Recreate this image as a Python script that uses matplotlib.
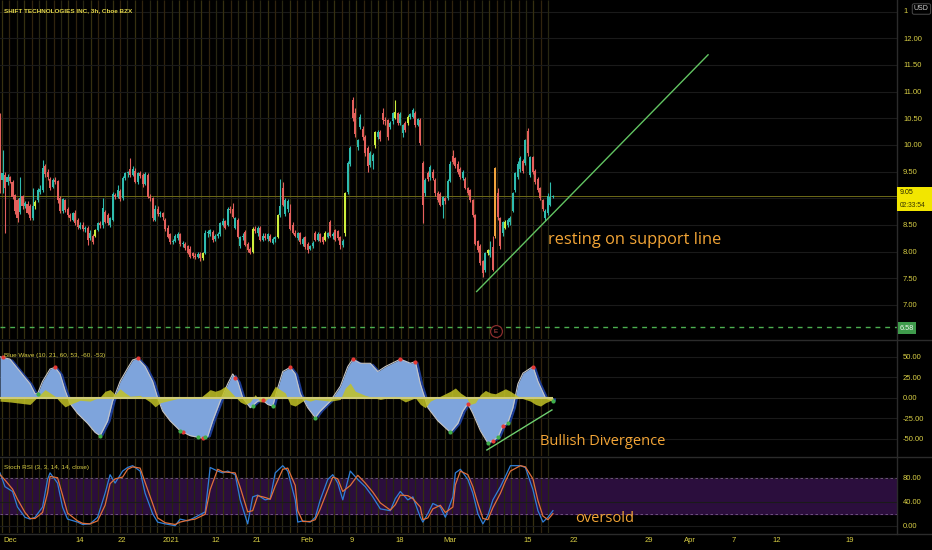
import numpy as np
import matplotlib
matplotlib.use("Agg")
import matplotlib.pyplot as plt
from matplotlib.lines import Line2D
from matplotlib.patches import Rectangle

# 3h candles, SHIFT (Cboe BZX)
opens = [
    10.46, 9.34, 9.43, 9.30, 9.39, 9.30, 9.06, 8.96, 8.74, 9.04,
    8.85, 8.90, 8.85, 8.62, 8.85, 8.96, 9.12, 9.15, 9.60, 9.50,
    9.37, 9.22, 9.35, 9.32, 9.00, 8.76, 8.96, 8.80, 8.68, 8.60,
    8.72, 8.60, 8.45, 8.50, 8.42, 8.45, 8.25, 8.30, 8.30, 8.40,
    8.53, 8.50, 8.74, 8.68, 8.50, 8.60, 9.06, 9.03, 9.13, 9.00,
    9.38, 9.47, 9.55, 9.44, 9.52, 9.30, 9.48, 9.43, 9.27, 9.44,
    9.02, 9.00, 8.60, 8.80, 8.70, 8.72, 8.60, 8.45, 8.32, 8.18,
    8.20, 8.25, 8.32, 8.14, 8.15, 8.10, 8.05, 7.98, 7.92, 7.90,
    7.96, 7.88, 7.97, 8.34, 8.33, 8.36, 8.24, 8.30, 8.32, 8.50,
    8.58, 8.50, 8.80, 8.80, 8.44, 8.60, 8.10, 8.27, 8.36, 8.15,
    8.05, 8.00, 8.43, 8.35, 8.45, 8.22, 8.30, 8.24, 8.30, 8.16,
    8.24, 8.27, 8.68, 9.20, 8.70, 8.80, 8.72, 8.50, 8.35, 8.26,
    8.34, 8.14, 8.28, 8.15, 8.05, 8.10, 8.35, 8.22, 8.32, 8.28,
    8.22, 8.28, 8.55, 8.30, 8.40, 8.38, 8.27, 8.12, 8.34, 9.11,
    9.65, 10.84, 10.60, 9.96, 10.33, 10.30, 10.14, 9.95, 9.62, 9.70,
    9.99, 10.15, 10.24, 10.60, 10.46, 10.46, 10.33, 10.44, 10.50, 10.60,
    10.42, 10.22, 10.42, 10.42, 10.52, 10.52, 10.60, 10.38, 10.46, 9.67,
    9.09, 9.48, 9.39, 9.50, 9.34, 9.10, 9.08, 8.88, 9.00, 9.00,
    9.32, 9.80, 9.75, 9.65, 9.55, 9.38, 9.37, 9.20, 9.15, 8.96,
    8.68, 8.20, 8.10, 7.82, 7.65, 7.97, 7.93, 8.08, 8.30, 9.09,
    8.62, 8.35, 8.45, 8.50, 8.55, 8.77, 9.15, 9.40, 9.55, 9.70,
    9.67, 10.27, 9.43, 9.77, 9.52, 9.37, 9.20, 8.96, 8.62, 8.72,
    8.88, 9.02]
highs = [
    10.60, 9.90, 9.50, 9.45, 9.42, 9.35, 9.08, 9.00, 9.40, 9.06,
    8.95, 8.95, 8.90, 9.20, 8.96, 9.20, 9.25, 9.72, 9.65, 9.55,
    9.40, 9.38, 9.40, 9.35, 9.05, 9.00, 8.98, 8.83, 8.72, 8.75,
    8.78, 8.63, 8.55, 8.55, 8.48, 8.48, 8.40, 8.33, 8.42, 8.56,
    8.58, 9.00, 8.78, 8.72, 8.65, 9.12, 9.10, 9.25, 9.18, 9.42,
    9.50, 9.52, 9.75, 9.60, 9.56, 9.50, 9.52, 9.48, 9.50, 9.47,
    9.08, 9.02, 8.88, 8.85, 8.76, 8.75, 8.62, 8.50, 8.35, 8.24,
    8.33, 8.36, 8.35, 8.20, 8.18, 8.13, 8.10, 8.00, 7.98, 8.00,
    7.99, 8.00, 8.40, 8.40, 8.42, 8.40, 8.33, 8.36, 8.56, 8.62,
    8.60, 8.83, 8.86, 8.92, 8.65, 8.62, 8.30, 8.34, 8.40, 8.18,
    8.08, 8.46, 8.47, 8.48, 8.48, 8.34, 8.34, 8.35, 8.33, 8.28,
    8.30, 8.70, 9.37, 9.30, 9.00, 8.98, 8.90, 8.55, 8.40, 8.36,
    8.37, 8.27, 8.30, 8.18, 8.13, 8.20, 8.38, 8.37, 8.35, 8.30,
    8.38, 8.37, 8.60, 8.36, 8.43, 8.40, 8.30, 8.24, 9.12, 9.70,
    9.98, 10.90, 10.70, 10.12, 10.58, 10.35, 10.18, 9.98, 9.88, 9.85,
    10.27, 10.28, 10.28, 10.70, 10.52, 10.48, 10.45, 10.62, 10.84, 10.62,
    10.62, 10.40, 10.45, 10.56, 10.60, 10.70, 10.63, 10.50, 10.50, 9.70,
    9.38, 9.52, 9.62, 9.54, 9.38, 9.13, 9.12, 9.05, 9.02, 9.36,
    9.70, 9.90, 9.78, 9.70, 9.58, 9.53, 9.40, 9.22, 9.18, 8.98,
    8.70, 8.22, 8.15, 7.85, 8.00, 8.05, 8.20, 8.30, 9.58, 9.20,
    8.65, 8.58, 8.60, 8.63, 8.66, 9.12, 9.50, 9.70, 9.80, 9.74,
    10.12, 10.31, 9.80, 9.80, 9.55, 9.40, 9.22, 8.98, 8.80, 9.10,
    9.30, 9.07]
lows = [
    9.10, 9.10, 8.34, 9.25, 9.28, 8.98, 8.70, 8.55, 8.70, 8.80,
    8.82, 8.70, 8.60, 8.60, 8.80, 8.93, 9.08, 9.12, 9.40, 9.35,
    9.15, 9.20, 9.26, 8.92, 8.72, 8.73, 8.75, 8.65, 8.58, 8.57,
    8.50, 8.42, 8.42, 8.38, 8.36, 8.12, 8.22, 8.14, 8.27, 8.38,
    8.45, 8.45, 8.53, 8.50, 8.46, 8.57, 8.98, 9.00, 8.95, 8.97,
    9.35, 9.40, 9.40, 9.42, 9.28, 9.27, 9.38, 9.22, 9.25, 9.00,
    8.95, 8.58, 8.57, 8.66, 8.64, 8.60, 8.38, 8.25, 8.15, 8.14,
    8.17, 8.22, 8.10, 8.08, 8.03, 7.95, 7.87, 7.88, 7.86, 7.87,
    7.83, 7.85, 7.95, 8.28, 8.30, 8.18, 8.20, 8.26, 8.30, 8.48,
    8.42, 8.47, 8.72, 8.62, 8.42, 8.25, 8.06, 8.22, 8.10, 8.00,
    7.95, 7.98, 8.34, 8.30, 8.20, 8.20, 8.22, 8.20, 8.17, 8.14,
    8.18, 8.25, 8.65, 8.86, 8.66, 8.75, 8.40, 8.32, 8.28, 8.22,
    8.14, 8.10, 8.05, 7.98, 8.02, 8.06, 8.20, 8.20, 8.17, 8.14,
    8.20, 8.25, 8.28, 8.24, 8.20, 8.22, 8.05, 8.08, 8.30, 9.08,
    9.60, 10.45, 10.15, 9.90, 10.30, 10.10, 9.80, 9.50, 9.58, 9.55,
    9.95, 10.12, 10.08, 10.40, 10.38, 10.10, 10.30, 10.40, 10.48, 10.38,
    10.38, 10.15, 10.25, 10.38, 10.48, 10.50, 10.33, 10.35, 10.00, 8.53,
    9.05, 9.33, 9.35, 9.35, 9.05, 8.93, 8.85, 8.62, 8.90, 8.97,
    9.30, 9.65, 9.56, 9.46, 9.36, 9.35, 9.17, 9.06, 8.93, 8.65,
    8.12, 8.00, 7.75, 7.53, 7.62, 7.94, 7.90, 7.63, 8.25, 8.60,
    8.05, 8.30, 8.42, 8.46, 8.50, 8.74, 9.12, 9.36, 9.50, 9.48,
    9.63, 9.80, 9.40, 9.46, 9.27, 9.12, 8.96, 8.77, 8.58, 8.68,
    8.85, 9.00]
closes = [
    9.15, 9.47, 9.20, 9.39, 9.32, 9.02, 8.77, 8.62, 9.00, 8.85,
    8.92, 8.72, 8.62, 8.85, 8.93, 9.15, 9.18, 9.56, 9.45, 9.40,
    9.20, 9.35, 9.30, 8.97, 8.76, 8.98, 8.78, 8.68, 8.62, 8.72,
    8.53, 8.46, 8.50, 8.42, 8.45, 8.22, 8.34, 8.18, 8.40, 8.53,
    8.50, 8.81, 8.56, 8.53, 8.62, 9.08, 9.03, 9.15, 8.98, 9.38,
    9.47, 9.50, 9.44, 9.55, 9.30, 9.48, 9.42, 9.26, 9.45, 9.02,
    9.00, 8.63, 8.80, 8.70, 8.73, 8.64, 8.42, 8.28, 8.18, 8.20,
    8.30, 8.33, 8.14, 8.16, 8.06, 7.98, 7.90, 7.92, 7.90, 7.96,
    7.87, 7.97, 8.34, 8.36, 8.40, 8.22, 8.30, 8.33, 8.53, 8.58,
    8.45, 8.80, 8.78, 8.65, 8.62, 8.28, 8.27, 8.30, 8.12, 8.03,
    7.98, 8.43, 8.38, 8.44, 8.22, 8.30, 8.26, 8.32, 8.20, 8.24,
    8.27, 8.68, 8.85, 8.88, 8.96, 8.95, 8.42, 8.35, 8.30, 8.34,
    8.18, 8.24, 8.08, 8.02, 8.10, 8.16, 8.22, 8.33, 8.20, 8.18,
    8.34, 8.34, 8.30, 8.32, 8.22, 8.26, 8.12, 8.20, 9.09, 9.67,
    9.94, 10.50, 10.20, 10.09, 10.52, 10.15, 9.85, 9.60, 9.84, 9.82,
    10.24, 10.24, 10.12, 10.46, 10.44, 10.15, 10.42, 10.59, 10.62, 10.42,
    10.58, 10.37, 10.28, 10.53, 10.58, 10.65, 10.38, 10.48, 10.03, 8.88,
    9.34, 9.37, 9.58, 9.38, 9.10, 8.97, 8.88, 9.02, 8.95, 9.32,
    9.65, 9.68, 9.60, 9.50, 9.40, 9.50, 9.20, 9.10, 8.97, 8.68,
    8.15, 8.03, 7.78, 7.60, 7.97, 8.03, 8.02, 7.66, 9.56, 8.65,
    8.10, 8.55, 8.55, 8.60, 8.63, 9.09, 9.47, 9.65, 9.75, 9.52,
    10.09, 9.85, 9.77, 9.50, 9.30, 9.15, 9.00, 8.80, 8.77, 9.05,
    9.02, 9.05]
lime_bars = [14, 38, 81, 101, 111, 130, 138, 150, 158, 163, 195, 202]
orange_bars = [198]

# Blue Wave (10, 21, 60, 53, -60, -53)
wave_bar = [0, 4, 8, 12, 14, 15, 17, 20, 22, 24, 26, 28, 31, 35, 38, 40, 43, 45, 48, 51,
            53, 55, 58, 61, 63, 65, 68, 72, 76, 81, 83, 85, 88, 91, 93, 95, 97, 100, 103, 105,
            107, 109, 111, 113, 116, 118, 120, 123, 126, 128, 132, 136, 139, 141, 144, 148, 151, 154, 158, 160,
            164, 166, 168, 171, 175, 180, 183, 185, 187, 189, 192, 195, 197, 199, 201, 203, 205, 207, 209, 213,
            215, 218, 221]
wave_val = [50, 47, 32, 17, 5, 5, 20, 35, 37, 29, 9, -7, -19, -31, -42, -46, -28, -4, 20, 36,
            46, 48, 38, 20, 0, -16, -28, -40, -46, -49, -47, -28, -4, 17, 29, 20, 0, -12, -4, -3,
            -8, -10, 12, 32, 37, 29, 5, -12, -24, -16, -4, 14, 38, 47, 42, 42, 32, 38, 44, 47,
            42, 44, 17, -12, -28, -42, -31, -16, -7, -19, -40, -55, -52, -48, -34, -30, -12, 17, 30, 38,
            20, 0, -4]
hist_bar = [0, 4, 12, 16, 18, 20, 22, 24, 26, 28, 32, 36, 40, 42, 44, 46, 48, 50, 52, 56,
            60, 62, 64, 68, 72, 76, 80, 82, 84, 86, 88, 90, 92, 96, 98, 100, 102, 104, 106, 108,
            110, 112, 114, 116, 118, 120, 122, 124, 126, 132, 136, 138, 140, 142, 146, 152, 158, 162, 166, 168,
            170, 172, 176, 180, 182, 184, 186, 188, 190, 192, 194, 196, 198, 200, 202, 204, 206, 208, 212, 214,
            216, 218, 221]
hist_val = [-4, -5, -8, 4, 10, 6, 2, -5, -11, -8, -3, -4, 1, 8, 10, 4, 11, 6, 2, 3,
            -5, -11, -6, -3, 0, -1, 0, 5, 10, 8, 10, 14, 8, -5, -8, -5, 4, -5, -4, 3,
            14, 10, 6, -8, -10, -6, -2, -4, -2, -4, -2, 12, 18, 8, 3, -2, 2, -5, 0, -8,
            -12, -4, 2, 8, 12, 6, 2, -8, -6, 4, 9, 6, 5, 8, 11, 8, 4, 0, -4, -8,
            -10, -6, -2]
red_dot_bars = [1, 22, 55, 73, 81, 94, 105, 116, 141, 160, 166, 187, 197, 201, 213]
green_dot_bars = [15, 40, 72, 79, 82, 101, 109, 126, 180, 195, 199, 203, 221]

# Stoch RSI (3, 3, 14, 14, close)
stoch_bar = [0, 2, 5, 7, 10, 12, 14, 17, 19, 20, 23, 25, 27, 31, 33, 36, 39, 42, 44, 46,
             49, 51, 53, 56, 58, 61, 63, 66, 70, 72, 75, 78, 82, 84, 87, 89, 91, 94, 96, 99,
             101, 103, 106, 108, 110, 113, 115, 118, 119, 121, 124, 126, 128, 131, 133, 135, 137, 140, 143, 146,
             149, 152, 156, 158, 160, 163, 165, 168, 169, 171, 173, 176, 178, 181, 182, 184, 187, 189, 191, 193,
             195, 197, 200, 202, 204, 208, 210, 213, 215, 217, 219, 221]
stoch_k = [88, 65, 57, 31, 14, 11, 14, 31, 77, 88, 71, 31, 11, 6, 2, 3, 14, 54, 85, 71,
           91, 97, 100, 91, 54, 20, 6, 3, 0, 11, 8, 14, 23, 97, 91, 88, 91, 85, 43, 3,
           48, 51, 43, 45, 88, 100, 91, 43, 6, 8, 6, 14, 43, 77, 85, 71, 43, 91, 77, 65,
           48, 28, 25, 45, 57, 43, 48, 14, 6, 20, 37, 31, 14, 48, 88, 94, 77, 54, 20, 3,
           17, 43, 65, 82, 100, 100, 97, 60, 25, 6, 14, 25]
stoch_d = [85, 76, 61, 44, 22, 12, 12, 22, 54, 82, 80, 51, 21, 8, 4, 3, 8, 34, 70, 78,
           81, 94, 98, 96, 72, 37, 13, 5, 2, 6, 9, 11, 19, 60, 94, 90, 89, 88, 64, 23,
           25, 50, 47, 44, 66, 94, 96, 67, 25, 7, 7, 10, 28, 60, 81, 78, 57, 67, 84, 71,
           56, 38, 26, 35, 51, 50, 45, 31, 10, 13, 28, 34, 22, 31, 68, 91, 85, 65, 37, 12,
           10, 30, 54, 74, 91, 100, 98, 78, 42, 16, 10, 20]

# drawn trend lines (bar, value)
support_bars = [190.5, 283]
support_prices = [7.25, 11.69]
div_bars = [194.6, 220.6]
div_vals = [-63.4, -14.7]

last_price = 9.05
countdown = '02:33:54'
level_price = 6.58

date_ticks = [4, 32, 48.8, 68.3, 86.3, 102.7, 122.7, 140.7, 159.9, 179.9,
              211, 229.4, 259.4, 275.8, 293.4, 310.6, 339.7]
date_labels = ['Dec', '14', '22', '2021', '12', '21', 'Feb', '9', '18', 'Mar',
               '15', '22', '29', 'Apr', '7', '12', '19']

W, H = 932, 550
BAR_PX = 2.502   # pixels per bar
RED, CYAN, LIME, ORANGE = '#e4605c', '#2fbcae', '#cdee3c', '#f2a33c'
YEL = '#d9cf45'
ANNO = '#f3a536'
plt.rcParams['font.family'] = ['Liberation Sans', 'DejaVu Sans']


def fx(px):
    return px / W


def fy(py):
    return 1 - py / H


fig = plt.figure(figsize=(W / 100, H / 100), dpi=100, facecolor='black')
ax1 = fig.add_axes([0, fy(339), fx(897), 339 / H])
ax2 = fig.add_axes([0, fy(456), fx(897), (456 - 341) / H])
ax3 = fig.add_axes([0, fy(533), fx(897), (533 - 458) / H])

n = len(closes)
x = np.arange(n)
day_lines = np.arange(0.8, n, 2.95)
day_cols = ['#363010', '#31240e', '#282711']

for ax in (ax1, ax2, ax3):
    ax.set_facecolor('black')
    ax.set_xlim(0, 897 / BAR_PX)
    for s in ax.spines.values():
        s.set_visible(False)
    ax.yaxis.tick_right()
    ax.tick_params(axis='y', length=0, pad=4.3, labelsize=5.5, labelcolor=YEL)
    ax.tick_params(axis='x', length=0, bottom=False, labelbottom=False)
    ax.grid(axis='y', color='#1a1a1a', lw=0.8)
    ax.set_axisbelow(True)
    ax.vlines(day_lines, 0, 1, transform=ax.get_xaxis_transform(),
              colors=[day_cols[i % 3] for i in range(len(day_lines))], lw=0.9, zorder=0.5)

# ---- price panel ----
o, h, l, c = map(np.array, (opens, highs, lows, closes))
cols = np.where(c >= o, CYAN, RED).astype(object)
cols[lime_bars] = LIME
cols[orange_bars] = ORANGE
ax1.vlines(x, l, h, colors=list(cols), lw=0.8, zorder=2)
ax1.bar(x, np.maximum(np.abs(c - o), 0.02), bottom=np.minimum(o, c), width=0.82,
        color=list(cols), lw=0, zorder=3)
ax1.set_ylim(6.36, 12.718)
pt = np.arange(7.0, 12.01, 0.5)
ax1.set_yticks(pt, [f'{v:.2f}' for v in pt])
ax1.axhline(12.5, color='#1a1a1a', lw=0.8, zorder=0.4)
ax1.axhline(last_price, color='#6e6b18', lw=0.7, zorder=1)
ax1.axhline(level_price, color='#4caf50', lw=1, ls=(0, (3.5, 3.5)), zorder=1)
ax1.plot(support_bars, support_prices, color='#62c462', lw=1, zorder=4)
ax1.text(219, 8.22, 'resting on support line', color=ANNO, fontsize=11.8,
         family='Open Sans', va='center', ha='left')
ax1.plot([198.2], [6.51], marker='o', ms=8.5, mfc='black', mec='#8a2d2d', mew=0.9,
         zorder=5, clip_on=False)
ax1.text(198.2, 6.51, 'E', color='#d05050', fontsize=4.5, ha='center', va='center', zorder=6)

# ---- Blue Wave panel ----
wb, wv = np.array(wave_bar), np.array(wave_val)
ax2.fill_between(wb + 1.0, wv, 0, color='#1d3c92', lw=0, zorder=1)
ax2.fill_between(wb, wv, 0, color='#7ea4dc', lw=0, zorder=2)
ax2.plot(wb, wv, color='#c6c6c6', lw=0.8, zorder=3)
ax2.fill_between(hist_bar, hist_val, 0, color='#c2c226', alpha=0.85, lw=0, zorder=4)
ax2.hlines(0, 0, n - 1, color='#cfcb78', lw=1.5, zorder=4)
ax2.scatter(red_dot_bars, np.interp(red_dot_bars, wb, wv), s=9, color='#e53935', zorder=6, lw=0)
ax2.scatter(green_dot_bars, np.interp(green_dot_bars, wb, wv), s=9, color='#3fae4a', zorder=6, lw=0)
ax2.plot(div_bars, div_vals, color='#6fd06f', lw=1, zorder=5)
ax2.set_ylim(-70.7, 69.1)
wt = [-50, -25, 0, 25, 50]
ax2.set_yticks(wt, [f'{v:.2f}' for v in wt])
ax2.text(215.8, -53.6, 'Bullish Divergence', color=ANNO, fontsize=10.5,
         family='Open Sans', va='center', ha='left')

# ---- Stoch RSI panel ----
ax3.axhspan(20, 80, color='#2b0e3d', zorder=0.2)
for lvl in (20, 80):
    ax3.axhline(lvl, color='#7b5b8c', lw=0.6, ls=(0, (3, 3)), zorder=1)
ax3.plot(stoch_bar, stoch_k, color='#2f7fd8', lw=0.9, zorder=3)
ax3.plot(stoch_bar, stoch_d, color='#e0703a', lw=0.9, zorder=3)
ax3.set_ylim(-12.2, 112.8)
ax3.set_yticks([0, 40, 80], ['0.00', '40.00', '80.00'])
ax3.set_xticks(date_ticks, date_labels)
ax3.tick_params(axis='x', bottom=True, labelbottom=True, length=0, pad=3,
                labelsize=5.5, labelcolor=YEL)
ax3.text(229.8, 12.8, 'oversold', color=ANNO, fontsize=10.5,
         family='Open Sans', va='center', ha='left')

# panel separators
for py in (340, 457, 534):
    fig.add_artist(Line2D([0, 1], [fy(py), fy(py)], color='#2b2b2b', lw=1))
fig.add_artist(Line2D([fx(897), fx(897)], [fy(0), fy(534)], color='#2b2b2b', lw=1))

# labels
fig.text(fx(4), fy(11), 'SHIFT TECHNOLOGIES INC, 3h, Cboe BZX', color='#e3d64a',
         fontsize=4.6, weight='bold', va='center')
fig.text(fx(4), fy(355), 'Blue Wave (10, 21, 60, 53, -60, -53)', color=YEL,
         fontsize=4.6, va='center')
fig.text(fx(4), fy(468), 'Stoch RSI (3, 3, 14, 14, close)', color=YEL,
         fontsize=4.6, va='center')
fig.text(fx(903), fy(11.5), '1', color=YEL, fontsize=5.5, va='center')
fig.text(fx(914), fy(9), 'USD', color='#d0d0d0', fontsize=5, va='center',
         bbox=dict(boxstyle='round,pad=0.25', fc='black', ec='#4a4a4a', lw=0.7))

# last price tag
fig.add_artist(Rectangle((fx(897), fy(211)), fx(932) - fx(897), (211 - 187) / H,
                         facecolor='#f2e600', edgecolor='none', zorder=4))
fig.text(fx(900), fy(192.5), f'{last_price:.2f}', color='#222200', fontsize=5.0,
         va='center', zorder=5)
fig.text(fx(900), fy(205), countdown, color='#333300', fontsize=4.8,
         va='center', zorder=5)
fig.text(fx(900), fy(328), f'{level_price:.2f}', color='#eef5ee', fontsize=5.3,
         va='center', bbox=dict(boxstyle='square,pad=0.3', fc='#3f9b4c', ec='none'))

fig.savefig('out.png', dpi=100, facecolor='black')
